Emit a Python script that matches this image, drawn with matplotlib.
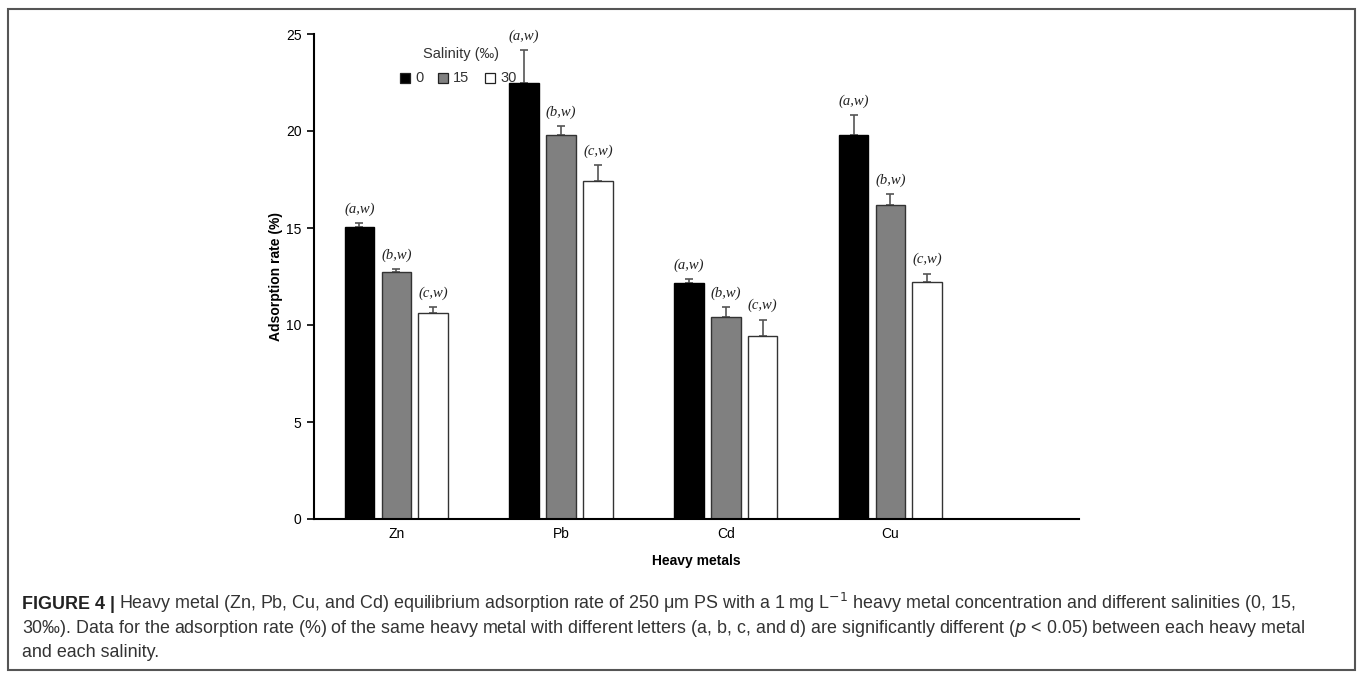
import matplotlib.pyplot as plt
import numpy as np
from matplotlib.patches import Rectangle

plt.rcParams['font.family'] = ['Liberation Sans', 'DejaVu Sans']

metals = ['Zn', 'Pb', 'Cd', 'Cu']
salinities = ['0', '15', '30']
rate_s0 = [15.05, 22.45, 12.15, 19.8]
rate_s15 = [12.72, 19.8, 10.43, 16.2]
rate_s30 = [10.6, 17.4, 9.43, 12.2]
err_s0 = [0.2, 1.7, 0.2, 1.0]
err_s15 = [0.15, 0.45, 0.5, 0.55]
err_s30 = [0.33, 0.85, 0.85, 0.45]
letters_s0 = ['(a,w)'] * 4
letters_s15 = ['(b,w)'] * 4
letters_s30 = ['(c,w)'] * 4

W, H = 1362, 681
fig = plt.figure(figsize=(W / 100, H / 100), dpi=100)
ax = fig.add_axes([314 / W, 1 - 519 / H, (1079 - 314) / W, (519 - 34) / H])

x = np.arange(len(metals))
width = 0.18
offset = 0.224
series = [
    (rate_s0, err_s0, letters_s0, 'black', 'black'),
    (rate_s15, err_s15, letters_s15, '#808080', '#333333'),
    (rate_s30, err_s30, letters_s30, 'white', '#333333'),
]
for i, (vals, errs, labs, fc, ec) in enumerate(series):
    pos = x + (i - 1) * offset
    ax.bar(pos, vals, width, color=fc, edgecolor=ec, linewidth=1.0, zorder=2)
    ax.errorbar(pos, vals, yerr=[np.zeros(len(vals)), errs], fmt='none',
                ecolor='#555555', elinewidth=1.2, capsize=3, capthick=1.2, zorder=1)
    for p, v, e, t in zip(pos, vals, errs, labs):
        ax.text(p, v + e + 0.38, t, ha='center', va='bottom', fontsize=10.5,
                style='italic', family='Liberation Serif', color='#222222')

ax.set_xlim(-0.5, 4.145)
ax.set_ylim(0, 25)
ax.set_yticks([0, 5, 10, 15, 20, 25])
ax.set_xticks(x)
ax.set_xticklabels(metals)
ax.tick_params(axis='x', length=0, pad=6, labelsize=10)
ax.tick_params(axis='y', length=5, width=1.2, labelsize=10, pad=4)
for s in ['top', 'right']:
    ax.spines[s].set_visible(False)
for s in ['left', 'bottom']:
    ax.spines[s].set_linewidth(1.5)
ax.set_ylabel('Adsorption rate (%)', fontweight='bold', fontsize=10, labelpad=2)
ax.set_xlabel('Heavy metals', fontweight='bold', fontsize=10, labelpad=9)

# legend drawn by hand
fig.text(461 / W, 1 - 54 / H, 'Salinity (‰)', ha='center', va='center', fontsize=10.5, color='#333333')
leg_x = [400, 438, 485]
leg_fc = ['black', '#808080', 'white']
for lx, fc, lab in zip(leg_x, leg_fc, salinities):
    fig.patches.append(Rectangle((lx / W, 1 - 83 / H), 10 / W, 10 / H,
                                 transform=fig.transFigure, facecolor=fc,
                                 edgecolor='#222222', linewidth=0.9))
    fig.text((lx + 15) / W, 1 - 78 / H, lab, ha='left', va='center', fontsize=10.5, color='#333333')

# frame around figure
fig.patches.append(Rectangle((8 / W, 1 - 670 / H), 1347 / W, 661 / H,
                             transform=fig.transFigure, fill=False,
                             edgecolor='#555555', linewidth=1.5))

# caption
cap_x = 22 / W
cap_fs = 12.9
head = fig.text(cap_x, 1 - 609 / H, 'FIGURE 4 |', fontsize=cap_fs, fontweight='bold',
                color='#222222', va='baseline')
fig.canvas.draw()
head_w = head.get_window_extent().width / W
fig.text(cap_x + head_w + 4 / W, 1 - 609 / H,
         'Heavy metal (Zn, Pb, Cu, and Cd) equilibrium adsorption rate of 250 μm PS with a 1 mg L$^{-1}$ '
         'heavy metal concentration and different salinities (0, 15,',
         fontsize=cap_fs, color='#333333', va='baseline')
fig.text(cap_x, 1 - 633 / H,
         '30‰). Data for the adsorption rate (%) of the same heavy metal with different letters (a, b, c, and d) '
         'are significantly different ($p$ < 0.05) between each heavy metal',
         fontsize=cap_fs, color='#333333', va='baseline')
fig.text(cap_x, 1 - 657 / H, 'and each salinity.', fontsize=cap_fs, color='#333333', va='baseline')

fig.savefig('out.png', dpi=100)
